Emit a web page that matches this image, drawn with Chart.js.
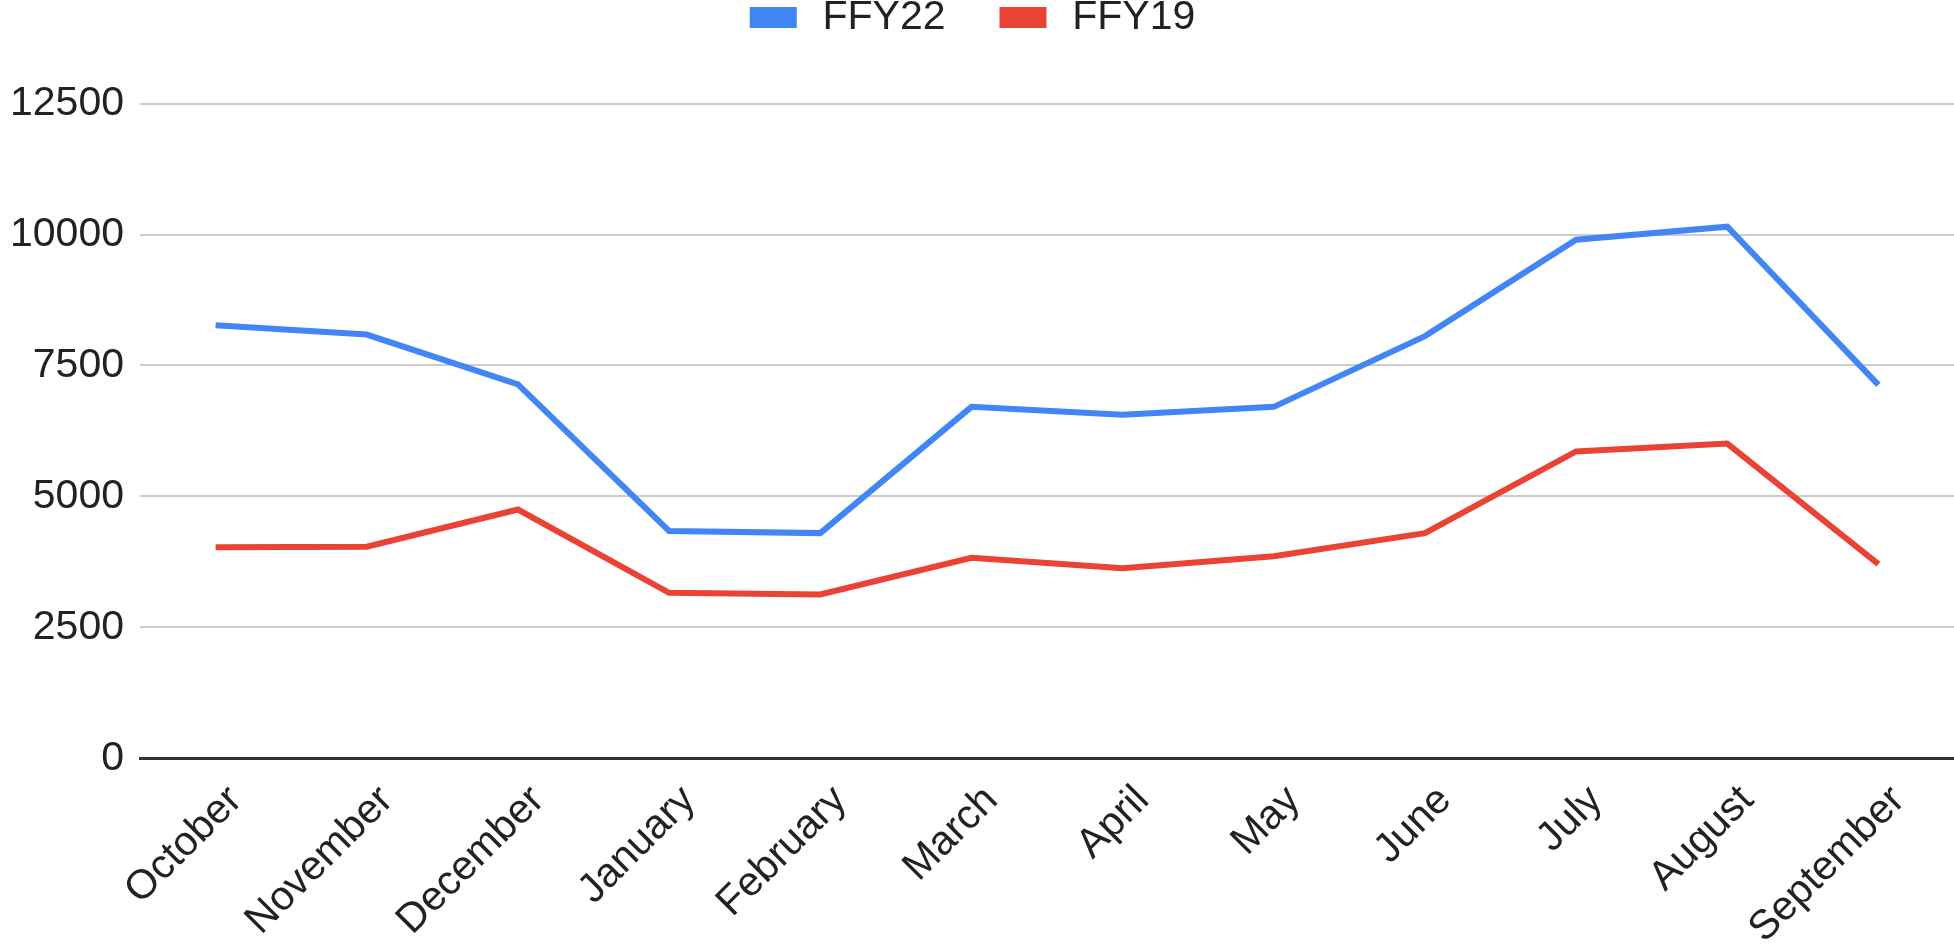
<!DOCTYPE html>
<html>
<head>
<meta charset="utf-8">
<script src="https://cdn.jsdelivr.net/npm/chart.js@4.4.0/dist/chart.umd.min.js"></script>
<style>
  html, body { margin: 0; padding: 0; background: #fff; }
  #wrap { width: 1954px; height: 947px; position: relative; }
</style>
</head>
<body>
<div id="wrap"><canvas id="line"></canvas></div>
<script>
// months of the federal fiscal year
const months = ["October","November","December","January","February","March",
  "April","May","June","July","August","September"];
const ffy22 = [8270, 8090, 7140, 4340, 4300, 6710, 6560, 6710, 8060, 9900, 10150, 7130];
const ffy19 = [4030, 4040, 4750, 3160, 3130, 3830, 3630, 3860, 4300, 5860, 6010, 3710];
const yTicks = [0, 2500, 5000, 7500, 10000, 12500];

const font = { family: "'Liberation Sans', Arial, sans-serif", size: 41 };

new Chart(document.getElementById("line"), {
  type: "line",
  data: {
    labels: months,
    datasets: [
      { label: "FFY22", data: ffy22, borderColor: "#4285F4", backgroundColor: "#4285F4",
        borderWidth: 6, pointRadius: 0, tension: 0 },
      { label: "FFY19", data: ffy19, borderColor: "#EA4335", backgroundColor: "#EA4335",
        borderWidth: 6, pointRadius: 0, tension: 0 }
    ]
  },
  options: {
    responsive: true,
    maintainAspectRatio: false,
    animation: false,
    layout: { padding: { top: -60, left: -6, right: 0, bottom: -16 } },
    plugins: {
      legend: {
        position: "top",
        labels: {
          font: font, color: "#222", boxWidth: 41, boxHeight: 15, padding: 57,
          // a thin space widens the gap between swatch and text a little
          generateLabels: (chart) => Chart.defaults.plugins.legend.labels.generateLabels(chart)
            .map(l => Object.assign(l, { text: "\u2009" + l.text }))
        }
      },
      tooltip: { enabled: false }
    },
    scales: {
      x: {
        offset: true,
        grid: { display: false },
        border: { display: true, color: "#333", width: 3 },
        ticks: { font: font, color: "#222", maxRotation: 45, minRotation: 45,
                 padding: 10, labelOffset: 20 }
      },
      y: {
        min: 0,
        max: 13560,
        afterBuildTicks: (axis) => { axis.ticks = yTicks.map(v => ({ value: v })); },
        border: { display: false },
        grid: {
          drawTicks: false,
          color: (ctx) => ctx.tick && ctx.tick.value === 0 ? "#333" : "#ccc",
          lineWidth: (ctx) => ctx.tick && ctx.tick.value === 0 ? 3 : 2
        },
        ticks: { font: font, color: "#222", padding: 16, callback: (v) => String(v) }
      }
    }
  }
});
</script>
</body>
</html>
